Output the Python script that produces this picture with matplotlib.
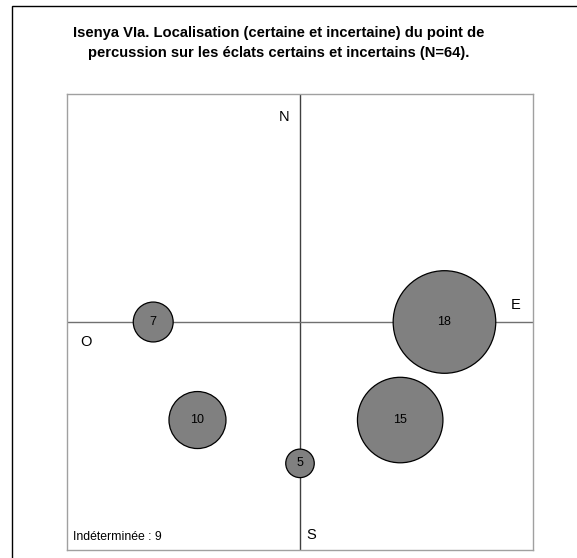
import matplotlib
matplotlib.use("Agg")
import matplotlib.pyplot as plt
from matplotlib.patches import Rectangle

plt.rcParams['font.family'] = ['Liberation Sans', 'DejaVu Sans']

# Data
values = [7, 10, 18, 15, 5]
xs = [-0.63, -0.44, 0.62, 0.43, 0.0]
ys = [0.0, -0.43, 0.0, -0.43, -0.62]
title = ("Isenya VIa. Localisation (certaine et incertaine) du point de\n"
         "percussion sur les éclats certains et incertains (N=64).")
indet_label = "Indéterminée : 9"

W, H, DPI = 577, 558, 100
fig = plt.figure(figsize=(W / DPI, H / DPI), dpi=DPI)
fig.patch.set_facecolor('white')

# outer chart border
fig.patches.append(Rectangle((12 / W, -0.1), 2.0, (H - 6) / H + 0.1,
                             transform=fig.transFigure, fill=False,
                             edgecolor='black', linewidth=1.0))

fig.text(279 / W, 1 - 43 / H, title, ha='center', va='center',
         fontsize=10.6, fontweight='bold', linespacing=1.55)

ax = fig.add_axes([67 / W, (H - 550) / H, 466 / W, 456 / H])
ax.set_xlim(-1, 1)
ax.set_ylim(-1, 1)
ax.set_xticks([])
ax.set_yticks([])
for sp in ax.spines.values():
    sp.set_color('#a0a0a0')
    sp.set_linewidth(1.0)

ax.axvline(0, color='#404040', linewidth=1.0, zorder=1)
ax.axhline(0, color='#707070', linewidth=1.0, zorder=1)

# bubble diameter ~ 5.7 px per unit of value
k = 5.7 * 72 / DPI
ax.scatter(xs, ys, s=[(v * k) ** 2 for v in values], facecolor='#808080',
           edgecolor='black', linewidth=0.9, zorder=3)
for x, y, v in zip(xs, ys, values):
    ax.text(x, y, str(v), ha='center', va='center', fontsize=9, zorder=4)

ax.text(-0.07, 0.90, 'N', ha='center', va='center', fontsize=10.5)
ax.text(0.927, 0.075, 'E', ha='center', va='center', fontsize=10.5)
ax.text(-0.92, -0.088, 'O', ha='center', va='center', fontsize=10.5)
ax.text(0.047, -0.934, 'S', ha='center', va='center', fontsize=10.5)
ax.text(-0.974, -0.943, indet_label, ha='left', va='center', fontsize=8.8)

fig.savefig('out.png', dpi=DPI)
